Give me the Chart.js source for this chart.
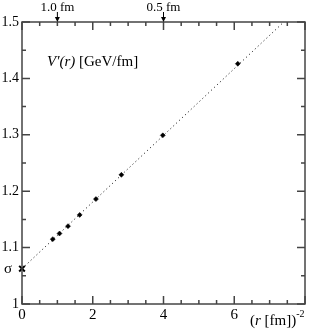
<!DOCTYPE html>
<html>
<head>
<meta charset="utf-8">
<script src="https://cdn.jsdelivr.net/npm/chart.js@4"></script>
<style>
  html, body { margin: 0; padding: 0; background: #fff; }
  #wrap { width: 311px; height: 330px; }
</style>
</head>
<body>
<div id="wrap"><canvas id="forceChart"></canvas></div>
<script>
// measured points: x = (r [fm])^-2, y = V'(r) [GeV/fm]
const xVals = [0.87, 1.06, 1.30, 1.63, 2.09, 2.81, 3.98, 6.10];
const yVals = [1.115, 1.125, 1.138, 1.158, 1.186, 1.229, 1.299, 1.426];

// string tension (intercept) and dotted fit line
const sigmaVal = 1.0626;
const fitX = [0, 7.40];
const fitY = [1.0626, 1.5];

// axis ticks
const xTicks = [0, 2, 4, 6];
const yTicks = [1, 1.1, 1.2, 1.3, 1.4, 1.5];

// distance markers along the top (r in fm)
const topLabels = ['1.0 fm', '0.5 fm'];
const topRadii = [1.0, 0.5];

const SERIF = '"Liberation Serif", "Times New Roman", serif';

// frame, inner tick marks and the extra labels
const framePlugin = {
    id: 'frame',
    afterDraw(chart) {
        const { ctx, chartArea: a, scales } = chart;
        const xs = scales.x, ys = scales.y;
        ctx.save();
        ctx.strokeStyle = '#444';
        ctx.lineWidth = 1.5;
        ctx.strokeRect(a.left, a.top, a.right - a.left, a.bottom - a.top);

        // x ticks, bottom and top
        for (let v = 0; v <= 8.001; v += 0.5) {
            const px = xs.getPixelForValue(v);
            const len = Math.abs(v % 2) < 0.01 ? 8 : 4;
            ctx.beginPath();
            ctx.moveTo(px, a.bottom); ctx.lineTo(px, a.bottom - len);
            ctx.moveTo(px, a.top); ctx.lineTo(px, a.top + len);
            ctx.stroke();
        }
        // y ticks, left and right
        for (let i = 0; i <= 10; i++) {
            const v = 1 + i * 0.05;
            const py = ys.getPixelForValue(v);
            const len = i % 2 === 0 ? 8 : 4;
            ctx.beginPath();
            ctx.moveTo(a.left, py); ctx.lineTo(a.left + len, py);
            ctx.moveTo(a.right, py); ctx.lineTo(a.right - len, py);
            ctx.stroke();
        }

        ctx.fillStyle = '#000';
        ctx.strokeStyle = '#000';
        ctx.lineWidth = 1;

        // top distance arrows
        ctx.font = '13px ' + SERIF;
        ctx.textAlign = 'center';
        ctx.textBaseline = 'alphabetic';
        topLabels.forEach((lab, i) => {
            const px = xs.getPixelForValue(1 / (topRadii[i] * topRadii[i]));
            ctx.fillText(lab, px, 11);
            ctx.beginPath();
            ctx.moveTo(px, 12); ctx.lineTo(px, a.top - 2);
            ctx.stroke();
            ctx.beginPath();
            ctx.moveTo(px - 2.5, a.top - 5);
            ctx.lineTo(px + 2.5, a.top - 5);
            ctx.lineTo(px, a.top);
            ctx.closePath();
            ctx.fill();
        });

        // V'(r) [GeV/fm]
        ctx.textAlign = 'left';
        ctx.textBaseline = 'middle';
        let x0 = 47;
        ctx.font = 'italic 15px ' + SERIF;
        ctx.fillText('V\u2032(r)', x0, 62);
        x0 += ctx.measureText('V\u2032(r)').width;
        ctx.font = '15px ' + SERIF;
        ctx.fillText(' [GeV/fm]', x0, 62);

        // sigma label
        ctx.font = '15px ' + SERIF;
        ctx.fillText('\u03c3', 4, ys.getPixelForValue(sigmaVal));

        // x axis title (r [fm])^-2
        ctx.textBaseline = 'alphabetic';
        let tx = 250;
        const by = 325;
        ctx.font = '15px ' + SERIF;
        ctx.fillText('(', tx, by); tx += ctx.measureText('(').width;
        ctx.font = 'italic 15px ' + SERIF;
        ctx.fillText('r', tx, by); tx += ctx.measureText('r').width;
        ctx.font = '15px ' + SERIF;
        ctx.fillText(' [fm])', tx, by); tx += ctx.measureText(' [fm])').width;
        ctx.font = '10px ' + SERIF;
        ctx.fillText('-2', tx, by - 8);

        ctx.restore();
    }
};

const ctx = document.getElementById('forceChart').getContext('2d');
new Chart(ctx, {
    type: 'scatter',
    data: {
        datasets: [
            {
                label: 'fit',
                data: fitX.map((x, i) => ({ x: x, y: fitY[i] })),
                showLine: true,
                borderColor: '#000',
                borderWidth: 1,
                borderDash: [1, 3],
                pointRadius: 0
            },
            {
                label: 'sigma',
                data: [{ x: 0, y: sigmaVal }],
                pointStyle: 'crossRot',
                pointRadius: 4,
                borderColor: '#000',
                borderWidth: 2,
                clip: false
            },
            {
                label: "V'(r)",
                data: xVals.map((x, i) => ({ x: x, y: yVals[i] })),
                pointStyle: 'rectRot',
                pointRadius: 2.5,
                backgroundColor: '#000',
                borderColor: '#000',
                borderWidth: 0.5
            }
        ]
    },
    options: {
        responsive: true,
        maintainAspectRatio: false,
        animation: false,
        layout: { padding: { top: 22, right: 1, left: 0, bottom: 0 } },
        plugins: {
            legend: { display: false },
            tooltip: { enabled: false }
        },
        scales: {
            x: {
                type: 'linear',
                min: 0,
                max: 8,
                grid: { display: false, drawTicks: false },
                border: { display: false },
                afterBuildTicks: (scale) => { scale.ticks = xTicks.map(v => ({ value: v })); },
                afterFit: (scale) => { scale.height = 26; },
                ticks: {
                    color: '#000',
                    padding: 2,
                    maxRotation: 0,
                    font: { family: SERIF, size: 15 }
                }
            },
            y: {
                type: 'linear',
                min: 1,
                max: 1.5,
                grid: { display: false, drawTicks: false },
                border: { display: false },
                afterBuildTicks: (scale) => { scale.ticks = yTicks.map(v => ({ value: v })); },
                afterFit: (scale) => { scale.width = 22; },
                ticks: {
                    color: '#000',
                    padding: 3,
                    font: { family: SERIF, size: 14 },
                    callback: (v) => String(+Number(v).toFixed(2))
                }
            }
        }
    },
    plugins: [framePlugin]
});
</script>
</body>
</html>
